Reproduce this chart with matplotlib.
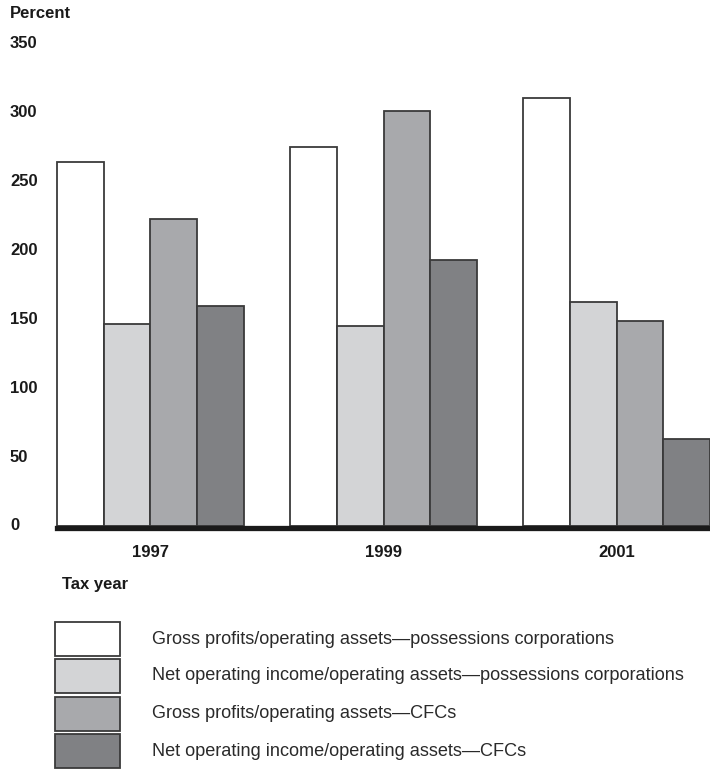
import matplotlib
matplotlib.use("Agg")
from matplotlib import pyplot as plt
from matplotlib import transforms
from matplotlib.patches import Rectangle
import numpy as np

plt.rcParams['font.family'] = ['Liberation Sans', 'DejaVu Sans']

# data
years = ["1997", "1999", "2001"]
series_labels = [
    "Gross profits/operating assets\u2014possessions corporations",
    "Net operating income/operating assets\u2014possessions corporations",
    "Gross profits/operating assets\u2014CFCs",
    "Net operating income/operating assets\u2014CFCs",
]
gross_poss = [264, 275, 311]
net_poss = [147, 145, 163]
gross_cfc = [223, 301, 149]
net_cfc = [160, 193, 63]
yticks = [0, 50, 100, 150, 200, 250, 300, 350]

colors = ["#ffffff", "#d3d4d6", "#a8a9ac", "#808184"]
edge = "#3a3a3a"

W, H = 710, 775
fig = plt.figure(figsize=(W / 100, H / 100), dpi=100)

# plot area in pixels: x 57..710, y 44..526 (top..bottom)
ax = fig.add_axes([57 / W, (H - 526) / H, (710 - 57) / W, (526 - 44) / H])
ax.set_xlim(-0.4, 2.4)
ax.set_ylim(0, 350)
ax.axis("off")

x = np.arange(len(years))
bw = 0.2
all_series = [gross_poss, net_poss, gross_cfc, net_cfc]
for i, (vals, c) in enumerate(zip(all_series, colors)):
    ax.bar(x - 0.3 + i * bw, vals, width=bw, color=c, edgecolor=edge,
           linewidth=1.3, clip_on=False)

# thick baseline
ax.axhline(-1.3, color="#1a1a1a", lw=3.8, zorder=5, clip_on=False)

# y tick labels, left aligned near the figure edge
ytrans = transforms.blended_transform_factory(transforms.IdentityTransform(), ax.transData)
for t in yticks:
    ax.text(10, t, str(t), transform=ytrans, ha="left", va="center",
            fontsize=12, fontweight="bold", color="#1a1a1a")

fig.text(10 / W, 1 - 14 / H, "Percent", ha="left", va="center",
         fontsize=12, fontweight="bold", color="#1a1a1a")

# year labels
for xi, yr in zip(x, years):
    ax.text(xi, -19, yr, ha="center", va="center", fontsize=12,
            fontweight="bold", color="#1a1a1a")

fig.text(62 / W, 1 - 585 / H, "Tax year", ha="left", va="center",
         fontsize=12, fontweight="bold", color="#1a1a1a")

# legend
row_y = [639, 676, 714, 751]
for yy, c, lab in zip(row_y, colors, series_labels):
    fig.add_artist(Rectangle((55 / W, 1 - (yy + 17) / H), 65 / W, 34 / H,
                             transform=fig.transFigure, facecolor=c,
                             edgecolor=edge, linewidth=1.3))
    fig.text(152 / W, 1 - yy / H, lab, ha="left", va="center", fontsize=13.1,
             color="#2a2a2a")

fig.savefig("out.png", dpi=100)
